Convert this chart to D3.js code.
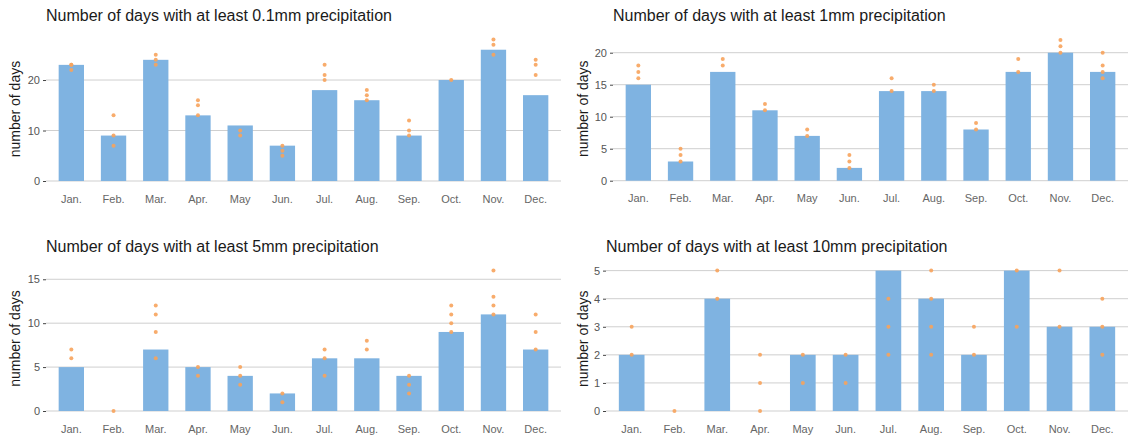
<!DOCTYPE html>
<html>
<head>
<meta charset="utf-8">
<script src="https://cdn.jsdelivr.net/npm/d3@7"></script>
<style>
  body { margin: 0; background: #fff; }
  svg { display: block; font-family: "Liberation Sans", Arial, sans-serif; }
</style>
</head>
<body>
<svg id="chart" width="1129" height="441"></svg>
<script>
// 月份
const months = ['Jan.', 'Feb.', 'Mar.', 'Apr.', 'May', 'Jun.', 'Jul.', 'Aug.', 'Sep.', 'Oct.', 'Nov.', 'Dec.'];

// 平均天数（柱）
const bars01 = [23, 9, 24, 13, 11, 7, 18, 16, 9, 20, 26, 17];
const bars1 = [15, 3, 17, 11, 7, 2, 14, 14, 8, 17, 20, 17];
const bars5 = [5, 0, 7, 5, 4, 2, 6, 6, 4, 9, 11, 7];
const bars10 = [2, 0, 4, 0, 2, 2, 5, 4, 2, 5, 3, 3];

// 各年份天数（点）
const dots01 = [[23, 22, 23], [13, 9, 7], [25, 24, 23], [16, 15, 13], [10, 9], [7, 6, 5],
                [23, 21, 20], [18, 17, 16], [12, 10, 9], [20], [28, 27, 25], [24, 23, 21]];
const dots1 = [[18, 17, 16], [5, 4, 3], [19, 18], [12, 11], [8, 7], [4, 3, 2],
               [16, 14], [15, 14], [9, 8], [19, 17], [22, 21, 20], [20, 18, 17, 16]];
const dots5 = [[7, 6], [0], [12, 11, 9, 6], [5, 4], [5, 4, 3], [2, 1],
               [7, 6, 4], [8, 7], [4, 3, 2], [12, 11, 10, 9], [16, 13, 12, 11], [11, 9, 7]];
const dots10 = [[3, 2], [0], [5, 4], [2, 1, 0], [2, 1], [2, 1],
                [4, 3, 2], [5, 4, 3, 2], [3, 2], [5, 3], [5, 3], [4, 3, 2]];

// 坐标轴刻度
const ticks01 = [0, 10, 20];
const ticks1 = [0, 5, 10, 15, 20];
const ticks5 = [0, 5, 10, 15];
const ticks10 = [0, 1, 2, 3, 4, 5];

const panels = [
    { title: 'Number of days with at least 0.1mm precipitation', bars: bars01, dots: dots01, ticks: ticks01, yMax: 28.5,
      left: 46, right: 561, top: 37.1, bottom: 181, titleY: 20.7, yTitleX: 15 },
    { title: 'Number of days with at least 1mm precipitation', bars: bars1, dots: dots1, ticks: ticks1, yMax: 22.5,
      left: 613, right: 1128, top: 36.7, bottom: 180.7, titleY: 20.7, yTitleX: 583 },
    { title: 'Number of days with at least 5mm precipitation', bars: bars5, dots: dots5, ticks: ticks5, yMax: 16.5,
      left: 46, right: 561, top: 266.1, bottom: 411, titleY: 251.7, yTitleX: 15 },
    { title: 'Number of days with at least 10mm precipitation', bars: bars10, dots: dots10, ticks: ticks10, yMax: 5.15,
      left: 606, right: 1128, top: 266.4, bottom: 411, titleY: 251.7, yTitleX: 583 }
];

const svg = d3.select('#chart');

panels.forEach(p => drawPanel(svg.append('g'), p));

function drawPanel(g, p) {
    const x = d3.scaleBand()
        .domain(months)
        .range([p.left, p.right])
        .paddingInner(0.4)
        .paddingOuter(0.3);

    const y = d3.scaleLinear()
        .domain([0, p.yMax])
        .range([p.bottom, p.top]);

    // 网格线
    g.append('g')
        .selectAll('line')
        .data(p.ticks)
        .join('line')
        .attr('x1', p.left)
        .attr('x2', p.right)
        .attr('y1', d => y(d))
        .attr('y2', d => y(d))
        .attr('stroke', '#cfcfcf')
        .attr('stroke-width', 1);

    // y 轴
    const yAxis = g.append('g')
        .attr('transform', `translate(${p.left},0)`)
        .call(d3.axisLeft(y).tickValues(p.ticks).tickFormat(d3.format('d')).tickSize(3).tickPadding(3));
    yAxis.select('.domain').remove();
    yAxis.selectAll('.tick line').attr('stroke', '#444');
    yAxis.selectAll('.tick text')
        .attr('fill', '#555')
        .style('font-size', '11px')
        .style('font-family', '"Liberation Sans", Arial, sans-serif');

    // x 轴标签
    const xAxis = g.append('g')
        .attr('transform', `translate(0,${p.bottom})`)
        .call(d3.axisBottom(x).tickSize(0).tickPadding(14));
    xAxis.select('.domain').remove();
    xAxis.selectAll('.tick text')
        .attr('fill', '#666')
        .style('font-size', '11px')
        .style('font-family', '"Liberation Sans", Arial, sans-serif');

    // 柱
    g.append('g')
        .selectAll('rect')
        .data(p.bars)
        .join('rect')
        .attr('x', (d, i) => x(months[i]))
        .attr('width', x.bandwidth())
        .attr('y', d => y(d))
        .attr('height', d => y(0) - y(d))
        .attr('fill', '#7fb3e1');

    // 点
    const pts = [];
    p.dots.forEach((vals, i) => vals.forEach(v => pts.push({ m: months[i], v })));
    g.append('g')
        .selectAll('circle')
        .data(pts)
        .join('circle')
        .attr('cx', d => x(d.m) + x.bandwidth() / 2)
        .attr('cy', d => y(d.v))
        .attr('r', 2)
        .attr('fill', '#f7a35c')
        .attr('fill-opacity', 0.9);

    // 标题
    g.append('text')
        .attr('x', p.left)
        .attr('y', p.titleY)
        .attr('fill', '#1a1a1a')
        .style('font-size', '16px')
        .text(p.title);

    // y 轴标题
    g.append('text')
        .attr('transform', `translate(${p.yTitleX},${(p.top + p.bottom) / 2}) rotate(-90)`)
        .attr('text-anchor', 'middle')
        .attr('dominant-baseline', 'central')
        .attr('fill', '#1a1a1a')
        .style('font-size', '14px')
        .text('number of days');
}
</script>
</body>
</html>
